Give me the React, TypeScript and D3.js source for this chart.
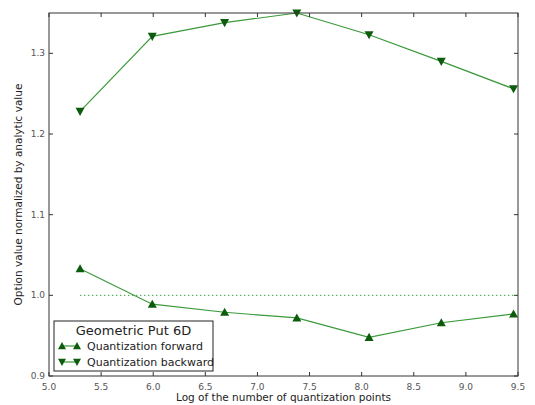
import React from "react";
import * as d3 from "d3";

const xValues = [5.298, 5.991, 6.685, 7.378, 8.071, 8.764, 9.457];
const forward = [1.033, 0.989, 0.979, 0.972, 0.948, 0.966, 0.977];
const backward = [1.228, 1.321, 1.338, 1.35, 1.323, 1.29, 1.256];
const reference = [1.0, 1.0];
const xTicks = [5.0, 5.5, 6.0, 6.5, 7.0, 7.5, 8.0, 8.5, 9.0, 9.5];
const yTicks = [0.9, 1.0, 1.1, 1.2, 1.3];
const legendTitle = "Geometric Put 6D";
const seriesNames = ["Quantization forward", "Quantization backward"];

const W = 535, H = 405;
const L = 49, R = 518, T = 13, B = 376;

export default function App() {
  const x = d3.scaleLinear().domain([5.0, 9.5]).range([L, R]);
  const y = d3.scaleLinear().domain([0.9, 1.35]).range([B, T]);
  const line = d3.line<number>().x((_, i) => x(xValues[i])).y((v) => y(v));
  const lineColor = "#3a9a3a";
  const markColor = "#0d5c0d";
  const tri = (cx: number, cy: number, up: boolean, s = 4.5) =>
    up
      ? `M${cx},${cy - s} L${cx + s},${cy + s * 0.8} L${cx - s},${cy + s * 0.8} Z`
      : `M${cx},${cy + s} L${cx + s},${cy - s * 0.8} L${cx - s},${cy - s * 0.8} Z`;
  const tickFont = { fontFamily: "DejaVu Sans", fontSize: 9, fill: "#555" };
  const refX = [xValues[0], xValues[xValues.length - 1]];
  return (
    <svg width={W} height={H} style={{ position: "absolute", left: 0, top: 0, background: "#fff" }}>
      <rect x={0} y={0} width={W} height={H} fill="#fff" />
      {/* reference dotted line */}
      <line x1={x(refX[0])} x2={x(refX[1])} y1={y(reference[0])} y2={y(reference[1])}
        stroke="#4cb04c" strokeWidth={1.4} strokeDasharray="1.3,2.7" />
      <path d={line(forward) || ""} fill="none" stroke={lineColor} strokeWidth={1.2} />
      <path d={line(backward) || ""} fill="none" stroke={lineColor} strokeWidth={1.2} />
      {forward.map((v, i) => (
        <path key={"f" + i} d={tri(x(xValues[i]), y(v), true)} fill={markColor} />
      ))}
      {backward.map((v, i) => (
        <path key={"b" + i} d={tri(x(xValues[i]), y(v), false)} fill={markColor} />
      ))}
      {/* ticks */}
      {xTicks.map((t) => (
        <g key={"xt" + t}>
          <line x1={x(t)} x2={x(t)} y1={B} y2={B - 4} stroke="#333" />
          <line x1={x(t)} x2={x(t)} y1={T} y2={T + 4} stroke="#333" />
          <text x={x(t)} y={B + 14} textAnchor="middle" {...tickFont}>{t.toFixed(1)}</text>
        </g>
      ))}
      {yTicks.map((t) => (
        <g key={"yt" + t}>
          <line x1={L} x2={L + 4} y1={y(t)} y2={y(t)} stroke="#333" />
          <line x1={R} x2={R - 4} y1={y(t)} y2={y(t)} stroke="#333" />
          <text x={L - 4} y={y(t) + 3} textAnchor="end" {...tickFont}>{t.toFixed(1)}</text>
        </g>
      ))}
      <rect x={L} y={T} width={R - L} height={B - T} fill="none" stroke="#333" strokeWidth={1} />
      {/* legend */}
      <g>
        <rect x={54} y={321} width={159} height={50} fill="#fff" stroke="#222" strokeWidth={1} />
        <text x={133.5} y={335} textAnchor="middle" fontFamily="DejaVu Sans" fontSize={13} fill="#222">{legendTitle}</text>
        {seriesNames.map((name, i) => {
          const ly = 346 + i * 16;
          return (
            <g key={name}>
              <line x1={62} x2={77} y1={ly} y2={ly} stroke={lineColor} strokeWidth={1.2} />
              <path d={tri(62, ly, i === 0, 4)} fill={markColor} />
              <path d={tri(77, ly, i === 0, 4)} fill={markColor} />
              <text x={87} y={ly + 4} fontFamily="DejaVu Sans" fontSize={11} fill="#222">{name}</text>
            </g>
          );
        })}
      </g>
      <text x={(L + R) / 2} y={401} textAnchor="middle" fontFamily="DejaVu Sans" fontSize={10.5} fill="#222">
        Log of the number of quantization points
      </text>
      <text transform={`translate(22,${(T + B) / 2}) rotate(-90)`} textAnchor="middle" fontFamily="DejaVu Sans" fontSize={10.5} fill="#222">
        Option value normalized by analytic value
      </text>
    </svg>
  );
}
